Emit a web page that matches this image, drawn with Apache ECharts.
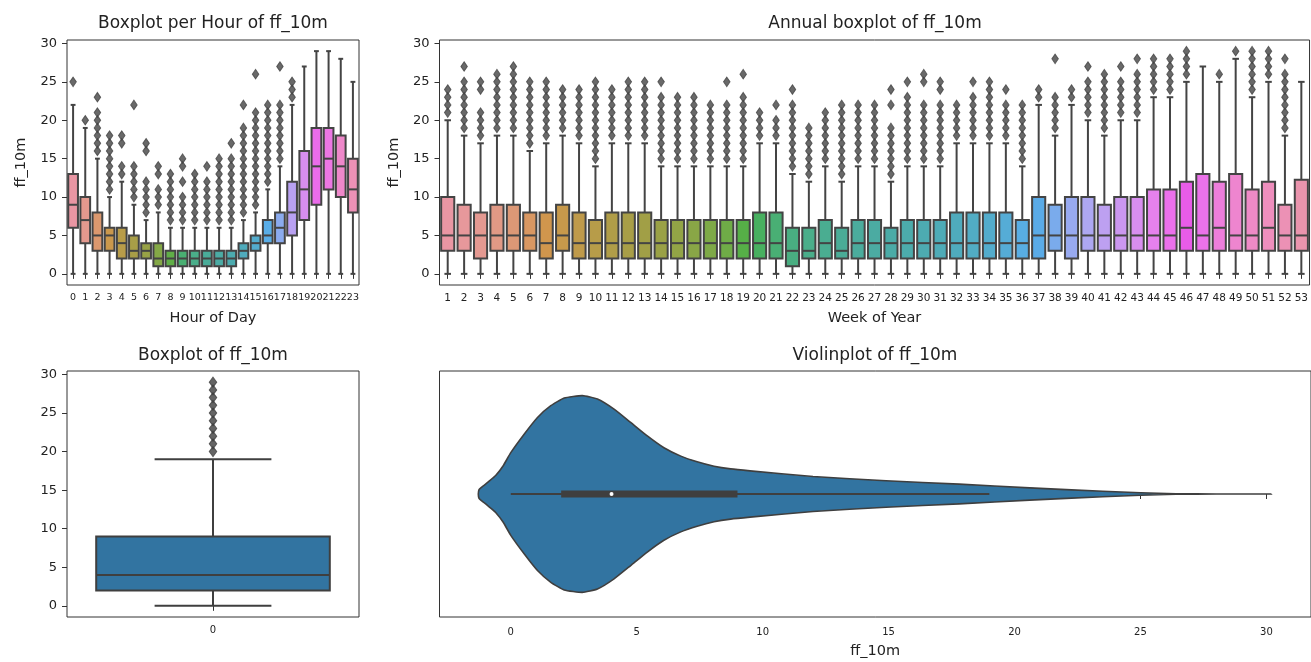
<!DOCTYPE html>
<html>
<head>
<meta charset="utf-8">
<title>ff_10m boxplots</title>
<script src="https://cdn.jsdelivr.net/npm/echarts@6/dist/echarts.min.js"></script>
<style>
  * { margin: 0; padding: 0; }
  body { background: #fff; }
  #main { width: 1311px; height: 662px; }
</style>
</head>
<body>
<div id="main"></div>
<script>
// ---------- data ----------
var hours = ['0','1','2','3','4','5','6','7','8','9','10','11','12','13','14','15','16','17','18','19','20','21','22','23'];
var hourLow    = [0,0,0,0,0,0,0,0,0,0,0,0,0,0,0,0,0,0,0,0,0,0,0,0];
var hourQ1     = [6,4,3,3,2,2,2,1,1,1,1,1,1,1,2,3,4,4,5,7,9,11,10,8];
var hourMedian = [9,7,5,5,4,3,3,2,2,2,2,2,2,2,3,4,5,6,8,11,14,15,14,11];
var hourQ3     = [13,10,8,6,6,5,4,4,3,3,3,3,3,3,4,5,7,8,12,16,19,19,18,15];
var hourHigh   = [22,19,15,10,12,9,7,8,6,6,6,6,6,6,7,8,11,14,22,27,29,29,28,25];
var hourOutliers = [
  [25],
  [20],
  [16,17,18,19,20,21,23],
  [11,12,13,14,15,16,17,18],
  [13,14,17,18],
  [10,11,12,13,14,22],
  [8,9,10,11,12,16,17],
  [9,10,11,13,14],
  [7,8,9,10,11,12,13],
  [7,8,9,10,12,14,15],
  [7,8,9,10,11,12,13],
  [7,8,9,10,11,12,14],
  [7,8,9,10,11,12,13,14,15],
  [7,8,9,10,11,12,13,14,15,17],
  [8,9,10,11,12,13,14,15,16,17,18,19,22],
  [9,10,11,12,13,14,15,16,17,18,19,20,21,26],
  [12,13,14,15,16,17,18,19,20,21,22],
  [15,16,17,18,19,20,21,22,27],
  [23,24,25],
  [], [], [], [], []
];

var weeks = ['1','2','3','4','5','6','7','8','9','10','11','12','13','14','15','16','17','18','19','20',
  '21','22','23','24','25','26','27','28','29','30','31','32','33','34','35','36','37','38','39','40',
  '41','42','43','44','45','46','47','48','49','50','51','52','53'];
var weekLow    = [0,0,0,0,0,0,0,0,0,0, 0,0,0,0,0,0,0,0,0,0, 0,0,0,0,0,0,0,0,0,0, 0,0,0,0,0,0,0,0,0,0, 0,0,0,0,0,0,0,0,0,0, 0,0,0];
var weekQ1     = [3,3,2,3,3,3,2,3,2,2, 2,2,2,2,2,2,2,2,2,2, 2,1,2,2,2,2,2,2,2,2, 2,2,2,2,2,2,2,3,2,3, 3,3,3,3,3,3,3,3,3,3, 3,3,3];
var weekMedian = [5,5,5,5,5,5,4,5,4,4, 4,4,4,4,4,4,4,4,4,4, 4,3,3,4,3,4,4,4,4,4, 4,4,4,4,4,4,5,5,5,5, 5,5,5,5,5,6,5,6,5,5, 6,5,5];
var weekQ3     = [10,9,8,9,9,8,8,9,8,7, 8,8,8,7,7,7,7,7,7,8, 8,6,6,7,6,7,7,6,7,7, 7,8,8,8,8,7,10,9,10,10, 9,10,10,11,11,12,13,12,13,11, 12,9,12.25];
var weekHigh   = [20,18,17,18,18,16,17,18,17,14, 17,17,17,14,14,14,14,14,14,17, 17,13,12,14,12,14,14,12,14,14, 14,17,17,17,17,14,22,18,22,20, 18,20,20,23,23,25,27,25,28,23, 25,18,25];
var weekOutliers = [
  [21,22,23,24],
  [19,20,21,22,23,24,25,27],
  [18,19,20,21,24,25],
  [19,20,21,22,23,24,25,26],
  [19,20,21,22,23,24,25,26,27],
  [17,18,19,20,21,22,23,24,25],
  [18,19,20,21,22,23,24,25],
  [19,20,21,22,23,24],
  [18,19,20,21,22,23,24],
  [15,16,17,18,19,20,21,22,23,24,25],
  [18,19,20,21,22,23,24],
  [18,19,20,21,22,23,24,25],
  [18,19,20,21,22,23,24,25],
  [15,16,17,18,19,20,21,22,23,25],
  [15,16,17,18,19,20,21,22,23],
  [15,16,17,18,19,20,21,22,23],
  [15,16,17,18,19,20,21,22],
  [15,16,17,18,19,20,21,22,25],
  [15,16,17,18,19,20,21,22,23,26],
  [18,19,20,21],
  [18,19,20,22],
  [14,15,16,17,18,19,20,21,22,24],
  [13,14,15,16,17,18,19],
  [15,16,17,18,19,20,21],
  [13,14,15,16,17,18,19,20,21,22],
  [15,16,17,18,19,20,21,22],
  [15,16,17,18,19,20,21,22],
  [13,14,15,16,17,18,19,22,24],
  [15,16,17,18,19,20,21,22,23,25],
  [15,16,17,18,19,20,21,22,25,26],
  [15,16,17,18,19,20,21,22,24,25],
  [18,19,20,21,22],
  [18,19,20,21,22,23,25],
  [18,19,20,21,22,23,24,25],
  [18,19,20,21,22,24],
  [15,16,17,18,19,20,21,22],
  [23,24],
  [19,20,21,22,23,28],
  [23,24],
  [21,22,23,24,25,27],
  [19,20,21,22,23,24,25,26],
  [21,22,23,24,25,27],
  [21,22,23,24,25,26,28],
  [24,25,26,27,28],
  [24,25,26,27,28],
  [26,27,28,29],
  [],
  [26],
  [29],
  [24,25,26,27,28,29],
  [26,27,28,29],
  [19,20,21,22,23,24,25,26,28],
  []
];

// whole series: [low whisker, q1, median, q3, high whisker]
var allStats = [0, 2, 4, 9, 19];
var allOutliers = [20,21,22,23,24,25,26,27,28,29];

// violin outline: ff_10m value and half width (category units)
var violinX    = [-1.29, -1.26, -1.19, -1.06, -0.86, -0.6, -0.3, 0, 0.53, 1.06, 1.59, 2.12, 2.84, 3.44, 4.1, 4.76, 5.42, 6.08, 6.75, 7.4, 8.07, 8.73, 9.5, 12, 14.9, 17.8, 20.6, 23.5, 25, 26.4, 28, 30.2];
var violinHalf = [0, 0.018, 0.025, 0.035, 0.052, 0.075, 0.115, 0.168, 0.243, 0.311, 0.359, 0.390, 0.400, 0.386, 0.345, 0.291, 0.236, 0.188, 0.154, 0.131, 0.113, 0.102, 0.094, 0.071, 0.054, 0.040, 0.025, 0.011, 0.005, 0.001, 0.0003, 0];

var yTicks = [0, 5, 10, 15, 20, 25, 30];
var violinTicks = [0, 5, 10, 15, 20, 25, 30];

// ---------- seaborn-like colours (husl palette l=.7, desaturated to .75) ----------
var M = [[3.2406, -1.5372, -0.4986], [-0.9689, 1.8758, 0.0415], [0.0557, -0.2040, 1.0570]];
var refU = 0.19784, refV = 0.46834;

function maxChroma(L, H) {
  var hrad = H / 180 * Math.PI;
  var sinH = Math.sin(hrad), cosH = Math.cos(hrad);
  var sub1 = Math.pow(L + 16, 3) / 1560896;
  var sub2 = sub1 > 0.008856 ? sub1 : L / 903.3;
  var result = Infinity;
  M.forEach(function (row) {
    var top = (0.99915 * row[0] + 1.05122 * row[1] + 1.14460 * row[2]) * sub2;
    var rbottom = 0.86330 * row[2] - 0.17266 * row[1];
    var lbottom = 0.12949 * row[2] - 0.38848 * row[0];
    var bottom = (rbottom * sinH + lbottom * cosH) * sub2;
    [0, 1].forEach(function (t) {
      var C = L * (top - 1.05122 * t) / bottom;
      if (C > 0 && C < result) result = C;
    });
  });
  return result;
}

function huslToRgb(H, S, L) {
  var C = maxChroma(L, H) / 100 * S;
  var hrad = H / 180 * Math.PI;
  var U = Math.cos(hrad) * C, V = Math.sin(hrad) * C;
  var Y = L > 8 ? Math.pow((L + 16) / 116, 3) : L / 903.3;
  var varU = U / (13 * L) + refU;
  var varV = V / (13 * L) + refV;
  var X = 0 - (9 * Y * varU) / ((varU - 4) * varV - varU * varV);
  var Z = (9 * Y - 15 * varV * Y - varV * X) / (3 * varV);
  return M.map(function (r) {
    var c = r[0] * X + r[1] * Y + r[2] * Z;
    c = c <= 0.0031308 ? 12.92 * c : 1.055 * Math.pow(c, 1 / 2.4) - 0.055;
    return Math.min(1, Math.max(0, c));
  });
}

function rgbToHls(r, g, b) {
  var maxc = Math.max(r, g, b), minc = Math.min(r, g, b);
  var l = (maxc + minc) / 2;
  if (maxc === minc) return [0, l, 0];
  var s = l <= 0.5 ? (maxc - minc) / (maxc + minc) : (maxc - minc) / (2 - maxc - minc);
  var rc = (maxc - r) / (maxc - minc), gc = (maxc - g) / (maxc - minc), bc = (maxc - b) / (maxc - minc);
  var h = r === maxc ? bc - gc : (g === maxc ? 2 + rc - bc : 4 + gc - rc);
  h = ((h / 6) % 1 + 1) % 1;
  return [h, l, s];
}

function hlsToRgb(h, l, s) {
  if (s === 0) return [l, l, l];
  var m2 = l <= 0.5 ? l * (1 + s) : l + s - l * s;
  var m1 = 2 * l - m2;
  function v(hue) {
    hue = ((hue % 1) + 1) % 1;
    if (hue < 1 / 6) return m1 + (m2 - m1) * hue * 6;
    if (hue < 0.5) return m2;
    if (hue < 2 / 3) return m1 + (m2 - m1) * (2 / 3 - hue) * 6;
    return m1;
  }
  return [v(h + 1 / 3), v(h), v(h - 1 / 3)];
}

function toHex(rgb) {
  return '#' + rgb.map(function (c) {
    var s = Math.round(c * 255).toString(16);
    return s.length < 2 ? '0' + s : s;
  }).join('');
}

function desat(rgb) {
  var hls = rgbToHls(rgb[0], rgb[1], rgb[2]);
  return hlsToRgb(hls[0], hls[1], hls[2] * 0.75);
}

function huslPalette(n) {
  var cols = [];
  for (var i = 0; i < n; i++) {
    var h = ((i / n + 0.01) % 1) * 359;
    cols.push(desat(huslToRgb(h, 89.1, 69.3)));
  }
  return cols;
}

var hourColors = huslPalette(hours.length).map(toHex);
var weekColors = huslPalette(weeks.length).map(toHex);
var blue = toHex(desat([0.122, 0.467, 0.706]));
var lineGray = '#444444';
var blueGray = '#3f3f3f';

// ---------- helpers ----------
function boxData(low, q1, med, q3, high) {
  return low.map(function (v, i) { return [i, v, q1[i], med[i], q3[i], high[i]]; });
}
function outlierData(lists) {
  var out = [];
  lists.forEach(function (vals, i) { vals.forEach(function (v) { out.push([i, v]); }); });
  return out;
}

function boxRenderer(colors, gray) {
  return function (params, api) {
    var x = api.value(0);
    var band = api.size([1, 0])[0];
    var low = api.coord([x, api.value(1)]), q1 = api.coord([x, api.value(2)]);
    var med = api.coord([x, api.value(3)]), q3 = api.coord([x, api.value(4)]);
    var high = api.coord([x, api.value(5)]);
    var cx = low[0], hb = band * 0.4, hc = band * 0.2;
    function ln() { return { stroke: gray, lineWidth: 2 }; }
    return {
      type: 'group',
      children: [
        { type: 'line', shape: { x1: cx, y1: low[1], x2: cx, y2: q1[1] }, style: ln() },
        { type: 'line', shape: { x1: cx, y1: q3[1], x2: cx, y2: high[1] }, style: ln() },
        { type: 'line', shape: { x1: cx - hc, y1: low[1], x2: cx + hc, y2: low[1] }, style: ln() },
        { type: 'line', shape: { x1: cx - hc, y1: high[1], x2: cx + hc, y2: high[1] }, style: ln() },
        { type: 'rect', shape: { x: cx - hb, y: q3[1], width: hb * 2, height: q1[1] - q3[1] },
          style: { fill: colors[params.dataIndex % colors.length], stroke: gray, lineWidth: 2 } },
        { type: 'line', shape: { x1: cx - hb, y1: med[1], x2: cx + hb, y2: med[1] }, style: ln() }
      ]
    };
  };
}

function renderViolin(params, api) {
  var pts = [];
  for (var i = 0; i < violinX.length; i++) pts.push(api.coord([violinX[i], violinHalf[i]]));
  for (var j = violinX.length - 2; j > 0; j--) pts.push(api.coord([violinX[j], -violinHalf[j]]));
  return { type: 'polygon', shape: { points: pts, smooth: 0.15 }, style: { fill: blue, stroke: blueGray, lineWidth: 1.6 } };
}

function renderViolinInner(params, api) {
  var lo = api.coord([api.value(0), 0]), q1 = api.coord([api.value(1), 0]);
  var md = api.coord([api.value(2), 0]), q3 = api.coord([api.value(3), 0]);
  var hi = api.coord([api.value(4), 0]);
  return {
    type: 'group',
    children: [
      { type: 'line', shape: { x1: lo[0], y1: lo[1], x2: hi[0], y2: hi[1] }, style: { stroke: blueGray, lineWidth: 1.8 } },
      { type: 'line', shape: { x1: q1[0], y1: q1[1], x2: q3[0], y2: q3[1] }, style: { stroke: blueGray, lineWidth: 7 } },
      { type: 'circle', shape: { cx: md[0], cy: md[1], r: 2 }, style: { fill: '#fff' } }
    ]
  };
}

// ---------- chart ----------
var font = 'DejaVu Sans';
var textColor = '#222';
var frame = '#333';

function titleAt(text, x, y) {
  return { text: text, left: x, top: y, textAlign: 'center', padding: 0,
    textStyle: { fontFamily: font, fontSize: 17, fontWeight: 'normal', color: textColor } };
}

function valueY(grid, name) {
  return {
    type: 'value', gridIndex: grid, min: -1.45, max: 30.45,
    name: name, nameLocation: 'middle', nameGap: 38,
    nameTextStyle: { fontFamily: font, fontSize: 14.5, color: textColor },
    axisLine: { show: false },
    axisTick: { show: true, length: 5, customValues: yTicks, lineStyle: { color: frame } },
    axisLabel: { customValues: yTicks, margin: 10, fontFamily: font, fontSize: 13, color: textColor },
    splitLine: { show: false }
  };
}

function categoryX(grid, cats, name, size) {
  return {
    type: 'category', gridIndex: grid, data: cats, boundaryGap: true,
    name: name, nameLocation: 'middle', nameGap: 26,
    nameTextStyle: { fontFamily: font, fontSize: 14.5, color: textColor },
    axisLine: { show: false },
    axisTick: { show: true, alignWithLabel: true, length: 5, lineStyle: { color: frame } },
    axisLabel: { interval: 0, hideOverlap: false, margin: 8, fontFamily: font, fontSize: size, color: textColor },
    splitLine: { show: false }
  };
}

function flierSeries(xi, data, size, color) {
  return {
    type: 'scatter', xAxisIndex: xi, yAxisIndex: xi,
    data: data, symbol: 'diamond', symbolSize: size,
    itemStyle: { color: color, borderColor: color, borderWidth: 1 }
  };
}

var chart = echarts.init(document.getElementById('main'), null, { renderer: 'canvas' });
chart.setOption({
  animation: false,
  backgroundColor: '#fff',
  textStyle: { fontFamily: font },
  title: [
    titleAt('Boxplot per Hour of ff_10m', 213, 15),
    titleAt('Annual boxplot of ff_10m', 875, 15),
    titleAt('Boxplot of ff_10m', 213, 347),
    titleAt('Violinplot of ff_10m', 875, 347)
  ],
  grid: [
    { left: 67, top: 40, width: 292, height: 245, show: true, borderColor: frame, borderWidth: 1 },
    { left: 439.5, top: 40, width: 872, height: 245, show: true, borderColor: frame, borderWidth: 1 },
    { left: 67, top: 371, width: 292, height: 246, show: true, borderColor: frame, borderWidth: 1 },
    { left: 439.5, top: 371, width: 872, height: 246, show: true, borderColor: frame, borderWidth: 1 }
  ],
  xAxis: [
    categoryX(0, hours, 'Hour of Day', 9.5),
    categoryX(1, weeks, 'Week of Year', 10.5),
    categoryX(2, ['0'], '', 10),
    {
      type: 'value', gridIndex: 3, min: -2.83, max: 31.77,
      name: 'ff_10m', nameLocation: 'middle', nameGap: 27,
      nameTextStyle: { fontFamily: font, fontSize: 14.5, color: textColor },
      axisLine: { show: false },
      axisTick: { show: true, length: 5, customValues: violinTicks, lineStyle: { color: frame } },
      axisLabel: { customValues: violinTicks, margin: 10, fontFamily: font, fontSize: 10, color: textColor },
      splitLine: { show: false }
    }
  ],
  yAxis: [
    valueY(0, 'ff_10m'),
    valueY(1, 'ff_10m'),
    valueY(2, ''),
    {
      type: 'value', gridIndex: 3, min: -0.5, max: 0.5,
      axisLine: { show: false },
      axisTick: { show: true, length: 5, customValues: [0], lineStyle: { color: frame } },
      axisLabel: { show: false },
      splitLine: { show: false }
    }
  ],
  series: [
    {
      type: 'custom', xAxisIndex: 0, yAxisIndex: 0,
      data: boxData(hourLow, hourQ1, hourMedian, hourQ3, hourHigh),
      encode: { x: 0, y: [1, 2, 3, 4, 5] },
      renderItem: boxRenderer(hourColors, lineGray)
    },
    flierSeries(0, outlierData(hourOutliers), [6.5, 9.5], lineGray),
    {
      type: 'custom', xAxisIndex: 1, yAxisIndex: 1,
      data: boxData(weekLow, weekQ1, weekMedian, weekQ3, weekHigh),
      encode: { x: 0, y: [1, 2, 3, 4, 5] },
      renderItem: boxRenderer(weekColors, lineGray)
    },
    flierSeries(1, outlierData(weekOutliers), [6.5, 9.5], lineGray),
    {
      type: 'custom', xAxisIndex: 2, yAxisIndex: 2,
      data: [[0].concat(allStats)],
      encode: { x: 0, y: [1, 2, 3, 4, 5] },
      renderItem: boxRenderer([blue], blueGray)
    },
    flierSeries(2, outlierData([allOutliers]), [7.5, 10], blueGray),
    {
      type: 'custom', xAxisIndex: 3, yAxisIndex: 3,
      data: [[0, 0]],
      encode: { x: 0, y: 1 },
      renderItem: renderViolin
    },
    {
      type: 'custom', xAxisIndex: 3, yAxisIndex: 3,
      data: [allStats],
      encode: { x: [0, 1, 2, 3, 4] },
      renderItem: renderViolinInner
    }
  ]
});
</script>
</body>
</html>
